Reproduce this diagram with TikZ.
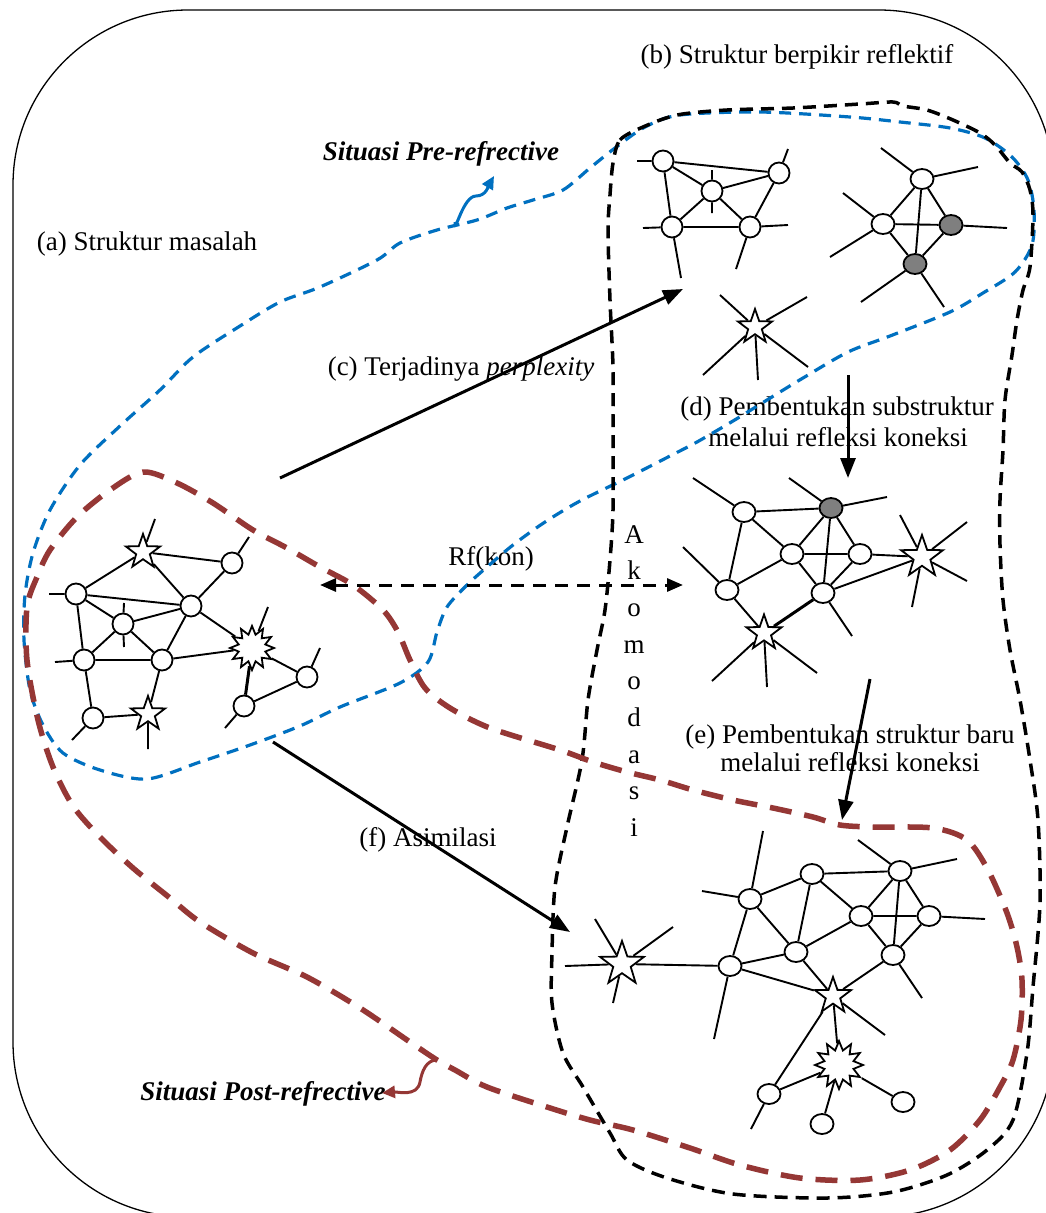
\documentclass[tikz,border=0pt]{standalone}
\usepackage{fontspec}
\setmainfont{Liberation Serif}
\usetikzlibrary{shapes.geometric,arrows.meta,calc}
\definecolor{bluec}{HTML}{0070C0}
\definecolor{brownc}{HTML}{953735}
\definecolor{grayc}{HTML}{7F7F7F}
\tikzset{
 nd/.style={circle,draw,line width=1.8pt,fill=white,minimum size=21pt,inner sep=0pt},
 nde/.style={ellipse,draw,line width=1.8pt,fill=white,minimum width=23pt,minimum height=20pt,inner sep=0pt},
 gnd/.style={nde,fill=grayc},
 st/.style={star,star points=5,star point ratio=2.5,draw,line width=1.8pt,fill=white,minimum size=38pt,inner sep=0pt},
 bst/.style={star,star points=12,star point ratio=1.6,draw,line width=1.8pt,fill=white,minimum size=46pt,inner sep=0pt},
 ed/.style={line width=1.9pt},
 thk/.style={line width=3pt},
 arr/.style={line width=3pt,-{Triangle[length=20pt,width=15pt]}},
 lbl/.style={inner sep=0pt,anchor=base},
}
\begin{document}
\begin{tikzpicture}[x=1pt,y=-1pt,font=\fontsize{27}{32}\selectfont]
\useasboundingbox (0,0) rectangle (1046,1213);
\clip (0,0) rectangle (1046,1213);
\fill[white] (0,0) rectangle (1046,1213);
\draw[line width=1.3pt,rounded corners=175pt] (13,10) rectangle (1054,1217);

% labels
\node[lbl] (lb) at (797,63) {(b) Struktur berpikir reflektif};
\node[lbl] (lpre) at (441,160) {\bfseries\itshape Situasi Pre-refrective};
\node[lbl] (la) at (147,250) {(a) Struktur masalah};
\node[lbl] (lc) at (461,375) {(c) Terjadinya \textit{perplexity}};
\node[lbl] (ld1) at (837,415) {(d) Pembentukan substruktur};
\node[lbl] (ld2) at (838,446) {melalui refleksi koneksi};
\node[lbl] (lrf) at (491,565) {Rf(kon)};
\foreach \c [count=\i from 0] in {A,k,o,m,o,d,a,s,i}
  \node[lbl,name=ak\i] at (634,543+36.7*\i) {\c};
\node[lbl] (le1) at (850,743) {(e) Pembentukan struktur baru};
\node[lbl] (le2) at (850,771) {melalui refleksi koneksi};
\node[lbl] (lf) at (428,846) {(f) Asimilasi};
\node[lbl] (lpost) at (263,1100) {\bfseries\itshape Situasi Post-refrective};

% blue region
\draw[bluec,line width=3.2pt,dash pattern=on 12pt off 8pt] plot[smooth cycle] coordinates {
(533,200) (563,190) (590,168) (615,148) (645,127) (680,115) (760,112) (850,117) (900,122) (950,128) (985,138) (1012,157) (1028,180) (1034,210) (1032,245) (1015,272) (983,293) (950,312) (890,336) (848,352) (803,378) (767,400) (733,421) (697,442) (670,456) (627,478) (580,501) (545,522) (513,545) (487,567) (467,585) (447,607) (437,632) (428,662) (400,683) (340,707) (300,726) (250,745) (200,762) (147,779) (100,770) (63,753) (43,725) (30,690) (24,640) (25,595) (33,553) (50,510) (80,465) (120,426) (160,390) (193,357) (240,326) (280,302) (320,287) (377,260) (400,243) (437,230) (477,220) (507,208)};

% black region
\draw[line width=3.5pt,dash pattern=on 13pt off 8pt] plot[smooth cycle] coordinates {
(613,163) (620,140) (643,127) (677,115) (727,110) (793,108) (860,104) (893,102) (903,106) (927,110) (953,120) (980,133) (995,145) (1010,163) (1022,172) (1030,190) (1033,215) (1030,267) (1023,290) (1017,320) (1012,355) (1005,400) (1003,450) (1000,500) (1000,545) (1003,600) (1010,650) (1020,700) (1030,760) (1038,820) (1040,903) (1033,987) (1027,1053) (1013,1120) (987,1150) (947,1175) (893,1192) (827,1198) (733,1194) (667,1178) (627,1160) (610,1133) (583,1087) (563,1053) (552,1003) (552,953) (555,887) (567,827) (582,760) (588,700) (597,650) (605,610) (610,560) (613,510) (613,430) (613,367) (610,300) (608,230) (610,195)};

% brown region
\draw[brownc,line width=5.5pt,dash pattern=on 22pt off 13pt] plot[smooth cycle] coordinates {
(143,472) (177,483) (213,503) (253,530) (287,548) (320,567) (353,585) (383,610) (398,632) (410,660) (425,688) (450,708) (490,728) (560,750) (593,762) (627,772) (660,780) (693,790) (733,800) (773,808) (813,817) (840,825) (873,827) (933,828) (967,840) (988,870) (1007,913) (1017,947) (1022,980) (1021,1020) (1013,1060) (1000,1087) (980,1120) (950,1150) (910,1170) (860,1180) (800,1178) (740,1165) (690,1148) (633,1130) (590,1120) (547,1107) (487,1087) (455,1070) (437,1060) (410,1042) (360,1008) (307,977) (253,953) (200,922) (170,898) (133,868) (100,837) (73,806) (53,767) (38,720) (27,660) (27,607) (37,577) (50,550) (77,517) (110,490)};

% situasi arrows
\coordinate (pa0) at (455,222); \coordinate (pa1) at (476,196); \coordinate (pa2) at (494,176);
\draw[bluec,line width=3pt,-{Triangle[length=13pt,width=12pt]}] (pa0) to[out=-90,in=180] (pa1) to[out=0,in=240] (pa2);
\coordinate (pb0) at (437,1060); \coordinate (pb1) at (420,1082); \coordinate (pb2) at (382,1093);
\draw[brownc,line width=3pt,-{Triangle[length=13pt,width=12pt]}] (pb0) to[out=180,in=80] (pb1) to[out=260,in=5] (pb2);

% ---------- left network (a)
\node[st,minimum size=36pt] (S1) at (143,552) {};
\node[nd] (C1) at (232,563) {};
\node[nd] (C2) at (76,594) {};
\node[nd] (C3) at (123,624) {};
\node[nd] (C4) at (191,606) {};
\node[nd] (C5) at (84,660) {};
\node[nd] (C6) at (162,660) {};
\node[bst,minimum size=44pt] (B1) at (252,648) {};
\node[nd] (C7) at (307,677) {};
\node[nd] (C8) at (244,706) {};
\node[nd] (C9) at (93,718) {};
\node[st,minimum size=36pt] (S2) at (148,714) {};
\draw[ed] (S1)--(C1) (S1)--(C2) (S1)--(C4) (C1)--(C4) (C2)--(C4) (C2)--(C3) (C2)--(C5)
 (C3)--(C4) (C3)--(C5) (C3)--(C6) (C4)--(C6) (C4)--(B1) (C5)--(C6) (C5)--(C9)
 (C6)--(S2) (C6)--(B1) (B1)--(C7) (C8)--(C7) (C9)--(S2);
\draw[thk] (B1)--(C8);
\path (155,519) coordinate (a1) (249,537) coordinate (a2) (49,594) coordinate (a3)
 (124,603) coordinate (a4) (124,647) coordinate (a5) (55,662) coordinate (a6)
 (268,607) coordinate (a7) (320,648) coordinate (a8) (225,728) coordinate (a9)
 (72,740) coordinate (a10) (148,749) coordinate (a11);
\draw[ed] (S1)--(a1) (C1)--(a2) (C2)--(a3) (C3)--(a4) (C3)--(a5) (C5)--(a6)
 (B1)--(a7) (C7)--(a8) (C8)--(a9) (C9)--(a10) (S2)--(a11);

% ---------- top-left network (b)
\node[nd] (D1) at (663,161) {};
\node[nd] (D2) at (779,173) {};
\node[nd] (D3) at (712,191) {};
\node[nd] (D4) at (672,227) {};
\node[nd] (D5) at (750,227) {};
\draw[ed] (D1)--(D2) (D1)--(D3) (D1)--(D4) (D3)--(D2) (D3)--(D4) (D3)--(D5) (D2)--(D5) (D4)--(D5);
\path (637,161) coordinate (b1) (788,149) coordinate (b2) (712,170) coordinate (b3)
 (712,213) coordinate (b4) (643,228) coordinate (b5) (681,278) coordinate (b6)
 (788,225) coordinate (b7) (736,269) coordinate (b8);
\draw[ed] (D1)--(b1) (D2)--(b2) (D3)--(b3) (D3)--(b4) (D4)--(b5) (D4)--(b6) (D5)--(b7) (D5)--(b8);

% top-right network
\node[nde] (E1) at (922,179) {};
\node[nde] (E2) at (883,224) {};
\node[gnd] (E3) at (951,225) {};
\node[gnd] (E4) at (915,264) {};
\draw[ed] (E1)--(E2) (E1)--(E3) (E1)--(E4) (E2)--(E3) (E2)--(E4) (E3)--(E4);
\path (881,148) coordinate (e1) (978,167) coordinate (e2) (843,193) coordinate (e3)
 (830,257) coordinate (e4) (1007,228) coordinate (e5) (861,302) coordinate (e6) (944,307) coordinate (e7);
\draw[ed] (E1)--(e1) (E1)--(e2) (E2)--(e3) (E2)--(e4) (E3)--(e5) (E4)--(e6) (E4)--(e7);

% lone star
\node[st,minimum size=36pt] (F1) at (755,327) {};
\path (720,295) coordinate (f1) (807,297) coordinate (f2) (703,375) coordinate (f3)
 (758,380) coordinate (f4) (808,367) coordinate (f5);
\draw[ed] (F1)--(f1) (F1)--(f2) (F1)--(f3) (F1)--(f4) (F1)--(f5);

% ---------- middle network (d)
\node[nde] (G1) at (744,512) {};
\node[gnd] (G2) at (831,508) {};
\node[nde] (G3) at (792,554) {};
\node[nde] (G4) at (860,554) {};
\node[nde] (G5) at (727,590) {};
\node[nde] (G6) at (823,593) {};
\node[st,minimum size=44pt] (H1) at (922,557) {};
\node[st,minimum size=37pt] (H2) at (764,633) {};
\draw[ed] (G1)--(G2) (G1)--(G3) (G1)--(G5) (G2)--(G3) (G2)--(G4) (G2)--(G6) (G3)--(G4)
 (G3)--(G5) (G3)--(G6) (G4)--(G6) (G4)--(H1) (G6)--(H1) (G5)--(H2);
\draw[thk] (G6)--(H2);
\path (693,478) coordinate (g1) (789,478) coordinate (g2) (887,497) coordinate (g3)
 (683,547) coordinate (g4) (852,636) coordinate (g5) (900,515) coordinate (g6)
 (967,522) coordinate (g7) (967,581) coordinate (g8) (912,607) coordinate (g9)
 (712,681) coordinate (g10) (767,687) coordinate (g11) (817,673) coordinate (g12);
\draw[ed] (G1)--(g1) (G2)--(g2) (G2)--(g3) (G5)--(g4) (G6)--(g5) (H1)--(g6) (H1)--(g7)
 (H1)--(g8) (H1)--(g9) (H2)--(g10) (H2)--(g11) (H2)--(g12);

% ---------- bottom network (e)
\node[st,minimum size=46pt] (K1) at (622,964) {};
\node[nde] (L1) at (730,966) {};
\node[nde] (L2) at (750,899) {};
\node[nde] (L3) at (812,874) {};
\node[nde] (L4) at (900,871) {};
\node[nde] (L5) at (861,916) {};
\node[nde] (L6) at (929,916) {};
\node[nde] (L7) at (796,952) {};
\node[nde] (L8) at (893,955) {};
\node[st,minimum size=38pt] (M1) at (833,996) {};
\node[bst,minimum size=48pt] (P1) at (839,1065) {};
\node[nde] (N1) at (769,1094) {};
\node[nde] (N2) at (822,1124) {};
\node[nde] (N3) at (903,1102) {};
\draw[ed] (K1)--(L1) (L1)--(L2) (L1)--(L7) (L1)--(M1) (L2)--(L3) (L2)--(L7) (L3)--(L4)
 (L3)--(L5) (L3)--(L7) (L4)--(L5) (L4)--(L8) (L4)--(L6) (L5)--(L6) (L5)--(L7) (L5)--(L8)
 (L6)--(L8) (L7)--(M1) (L8)--(M1) (M1)--(N1) (M1)--(P1) (P1)--(N1) (P1)--(N2) (P1)--(N3);
\path (565,966) coordinate (k1) (595,919) coordinate (k2) (673,927) coordinate (k3)
 (613,1003) coordinate (k4) (714,1039) coordinate (k5) (702,891) coordinate (k6)
 (763,831) coordinate (k7) (858,840) coordinate (k8) (957,859) coordinate (k9)
 (985,919) coordinate (k10) (922,998) coordinate (k11) (885,1035) coordinate (k12)
 (751,1129) coordinate (k13);
\draw[ed] (K1)--(k1) (K1)--(k2) (K1)--(k3) (K1)--(k4) (L1)--(k5) (L2)--(k6) (L2)--(k7)
 (L4)--(k8) (L4)--(k9) (L6)--(k10) (L8)--(k11) (M1)--(k12) (N1)--(k13);

% ---------- arrows
\path (280,478) coordinate (cA) (683,289) coordinate (cB)
 (848,375) coordinate (dA) (848,478) coordinate (dB)
 (870,679) coordinate (eA) (842,820) coordinate (eB)
 (273,742) coordinate (fA) (570,932) coordinate (fB)
 (320,585) coordinate (rA) (683,585) coordinate (rB);
\draw[arr] (cA)--(cB);
\draw[arr] (dA)--(dB);
\draw[arr] (eA)--(eB);
\draw[arr] (fA)--(fB);
\draw[line width=3pt,dash pattern=on 13pt off 9pt,{Triangle[length=16pt,width=13pt]}-{Triangle[length=16pt,width=13pt]}] (rA)--(rB);
\end{tikzpicture}
\end{document}
